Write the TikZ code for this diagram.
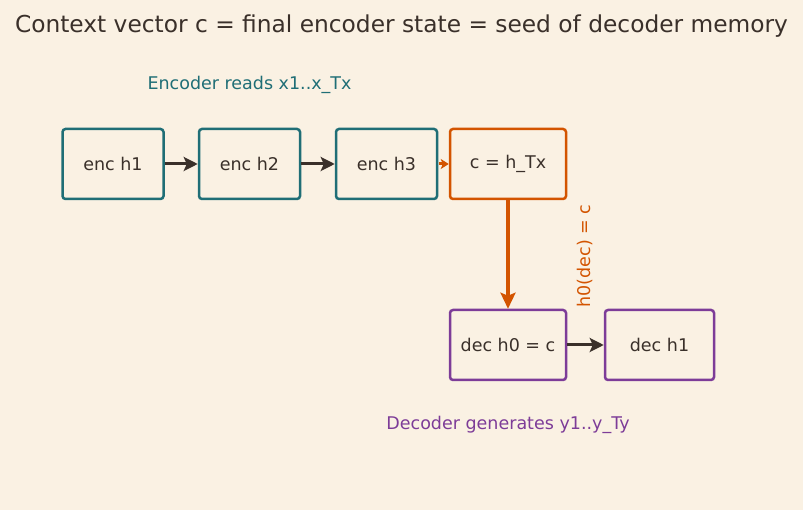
\documentclass[tikz,border=0pt]{standalone}
\usepackage{fontspec}
\setmainfont{DejaVu Sans}
\usetikzlibrary{arrows.meta}
\definecolor{bg}{HTML}{FAF1E3}
\definecolor{teal}{HTML}{1F6E76}
\definecolor{orng}{HTML}{D35400}
\definecolor{purp}{HTML}{7D3C98}
\definecolor{ink}{HTML}{3A302A}
\tikzset{
  box/.style={draw, line width=2.5pt, rounded corners=3pt, fill=bg, minimum height=70pt, text=ink, font=\fontsize{17.5}{20}\selectfont, inner sep=0pt},
  encbox/.style={box, draw=teal, minimum width=101pt},
  ctxbox/.style={box, draw=orng, minimum width=116pt},
  decbox/.style={box, draw=purp},
  flow/.style={draw=ink, line width=3pt, -{Stealth[length=14pt,width=14pt,inset=3pt]}},
  lbl/.style={font=\fontsize{17.5}{20}\selectfont},
}
\begin{document}
\begin{tikzpicture}[x=1pt,y=-1pt]
\fill[bg] (0,0) rectangle (803,510);
\useasboundingbox (0,0) rectangle (803,510);
\node[text=ink, font=\fontsize{23.3}{26}\selectfont] (title) at (401.5,26.5) {Context vector c = final encoder state = seed of decoder memory};
\node[lbl, text=teal] (enclbl) at (249.5,85) {Encoder reads x1..x\_Tx};
\node[encbox] (e1) at (113,164) {enc h1};
\node[encbox] (e2) at (249.5,164) {enc h2};
\node[encbox] (e3) at (386.5,164) {enc h3};
\node[ctxbox] (c) at (508,164) {c = h\_Tx};
\node[decbox, minimum width=116pt] (d0) at (508,345) {dec h0 = c};
\node[decbox, minimum width=109pt] (d1) at (659.5,345) {dec h1};
\node[lbl, text=purp] (declbl) at (508,425) {Decoder generates y1..y\_Ty};
\node[lbl, text=orng, rotate=90] (h0lbl) at (585,256) {h0(dec) = c};
\draw[flow] (e1) -- (e2);
\draw[flow] (e2) -- (e3);
\draw[draw=orng, line width=3pt, -{Stealth[length=8pt,width=10pt,inset=2pt]}, shorten <=1pt] (e3) -- (c);
\draw[draw=orng, line width=3.5pt, -{Stealth[length=16pt,width=15pt,inset=3pt]}] (c) -- (d0);
\draw[flow] (d0) -- (d1);
\end{tikzpicture}
\end{document}
